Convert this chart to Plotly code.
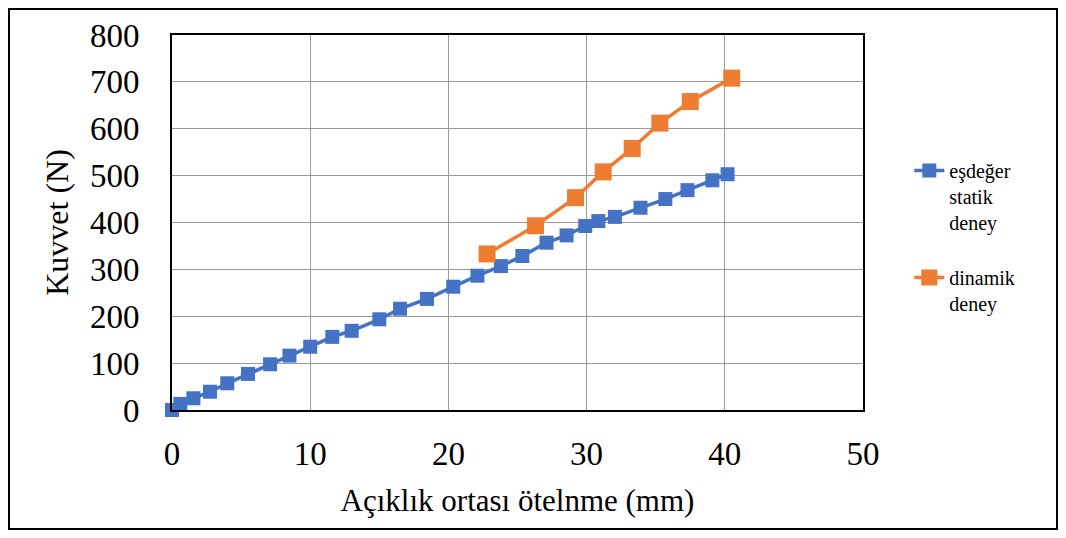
import plotly.graph_objects as go

# eşdeğer statik deney
static_x = [0, 0.6, 1.55, 2.75, 4.0, 5.5, 7.1, 8.5, 10.0, 11.6, 13.0, 15.0, 16.5, 18.45,
            20.35, 22.1, 23.8, 25.35, 27.1, 28.55, 29.9, 30.85, 32.05, 33.9, 35.7, 37.3, 39.1, 40.2]
static_y = [0, 13, 25, 39, 57, 77, 97.5, 116, 135, 156, 169, 193.5, 216, 237,
            263, 286.5, 307, 328.5, 357, 372.5, 392.5, 403, 412, 431.5, 450, 469, 490, 503]

# dinamik deney
dyn_x = [22.8, 26.3, 29.2, 31.2, 33.3, 35.3, 37.5, 40.5]
dyn_y = [333, 393, 453, 508, 558, 612, 658, 708]

x_ticks = [0, 10, 20, 30, 40, 50]
y_ticks = [0, 100, 200, 300, 400, 500, 600, 700, 800]

blue = "#4472C4"
orange = "#ED7D31"
serif = "Liberation Serif, serif"

fig = go.Figure()
fig.add_trace(go.Scatter(
    x=static_x, y=static_y, mode="lines+markers",
    name="eşdeğer<br>statik<br>deney", legendgroup="a",
    line=dict(color=blue, width=3.5),
    marker=dict(symbol="square", size=14, color=blue),
    cliponaxis=False,
))
fig.add_trace(go.Scatter(
    x=dyn_x, y=dyn_y, mode="lines+markers",
    name="dinamik<br>deney", legendgroup="b",
    line=dict(color=orange, width=3.5),
    marker=dict(symbol="square", size=17, color=orange),
    cliponaxis=False,
))

# outer frame around whole chart
fig.add_shape(type="rect", xref="paper", yref="paper",
              x0=-0.2359, x1=1.2808, y0=-0.3173, y1=1.0693,
              line=dict(color="black", width=2), layer="below")

fig.update_layout(
    width=1050, height=522,
    margin=dict(l=164, r=195, t=27, b=120),
    paper_bgcolor="white", plot_bgcolor="white",
    font=dict(family=serif, color="black"),
    showlegend=True,
    legend=dict(x=1.067, y=0.691, xanchor="left", yanchor="top",
                font=dict(size=20, family=serif, color="black"), valign="top",
                traceorder="grouped", tracegroupgap=26,
                bgcolor="rgba(0,0,0,0)"),
    xaxis=dict(
        range=[0, 50], tickvals=x_ticks, automargin=False,
        showgrid=True, gridcolor="#9a9a9a", gridwidth=1.2,
        showline=True, linecolor="black", linewidth=2, mirror=True,
        zeroline=False, ticks="", ticklabelstandoff=13,
        tickfont=dict(size=33, family=serif),
        title=dict(text="Açıklık ortası ötelnme (mm)", font=dict(size=31, family=serif), standoff=19),
    ),
    yaxis=dict(
        range=[0, 800], tickvals=y_ticks, automargin=False,
        showgrid=True, gridcolor="#9a9a9a", gridwidth=1.2,
        showline=True, linecolor="black", linewidth=2, mirror=True,
        zeroline=False, ticks="", ticklabelstandoff=24,
        tickfont=dict(size=33, family=serif),
        title=dict(text="Kuvvet (N)", font=dict(size=32, family=serif), standoff=12),
    ),
)

fig.write_html("out.html")
